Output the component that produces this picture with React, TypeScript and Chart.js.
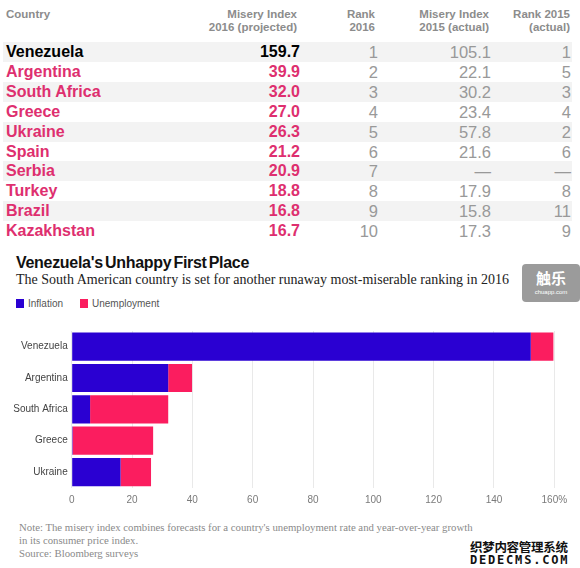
import React, { useEffect, useRef } from "react";
import { Chart, registerables } from "chart.js";

Chart.register(...registerables);

// ---- Table data ----
const tableCountries = ["Venezuela", "Argentina", "South Africa", "Greece", "Ukraine", "Spain", "Serbia", "Turkey", "Brazil", "Kazakhstan"];
const misery2016 = [159.7, 39.9, 32.0, 27.0, 26.3, 21.2, 20.9, 18.8, 16.8, 16.7];
const rank2016 = ["1", "2", "3", "4", "5", "6", "7", "8", "9", "10"];
const misery2015 = ["105.1", "22.1", "30.2", "23.4", "57.8", "21.6", "—", "17.9", "15.8", "17.3"];
const rank2015 = ["1", "5", "3", "4", "2", "6", "—", "8", "11", "9"];

// ---- Chart data ----
const chartCountries = ["Venezuela", "Argentina", "South Africa", "Greece", "Ukraine"];
const inflation = [152.2, 32.0, 6.1, 0.3, 16.2];
const unemployment = [7.5, 7.9, 25.9, 26.7, 10.1];
const xTicks = [0, 20, 40, 60, 80, 100, 120, 140, 160];

const BLUE = "#2a00d2";
const PINK = "#fb1d5f";
const TABLE_PINK = "#de2f6f";
const SANS = "'Liberation Sans', Arial, sans-serif";
const SERIF = "'Liberation Serif', 'Times New Roman', serif";

function MiseryChart() {
  const ref = useRef<HTMLCanvasElement>(null);
  useEffect(() => {
    const chart = new Chart(ref.current as HTMLCanvasElement, {
      type: "bar",
      data: {
        labels: chartCountries,
        datasets: [
          { label: "Inflation", data: inflation, backgroundColor: BLUE, barPercentage: 0.9, categoryPercentage: 1 },
          { label: "Unemployment", data: unemployment, backgroundColor: PINK, barPercentage: 0.9, categoryPercentage: 1 },
        ],
      },
      options: {
        indexAxis: "y",
        responsive: false,
        maintainAspectRatio: false,
        animation: false,
        layout: { padding: { top: 0, right: 25.7, bottom: 0.3, left: 0 } },
        plugins: { legend: { display: false }, tooltip: { enabled: false } },
        scales: {
          x: {
            stacked: true,
            min: 0,
            max: 160,
            afterBuildTicks: (s: any) => { s.ticks = xTicks.map((v) => ({ value: v })); },
            ticks: {
              padding: 7,
              color: "#7a7a7a",
              font: { family: "Liberation Sans", size: 10 },
              callback: (v: any) => (Number(v) === 160 ? "160%" : String(v)),
            },
            grid: { color: "#e9e9e9", drawTicks: false },
            border: { display: false },
          },
          y: {
            stacked: true,
            ticks: { padding: 4, color: "#444", font: { family: "Liberation Sans", size: 10 } },
            grid: { display: false, drawTicks: false },
            border: { display: false },
            afterFit: (s: any) => { s.width = 71.7; },
          },
        },
      },
    });
    return () => chart.destroy();
  }, []);
  return (
    <canvas
      ref={ref}
      width={580}
      height={193}
      style={{ position: "absolute", left: 0, top: 320.5, width: 580, height: 193 }}
    />
  );
}

const colRights = [283, 205, 91, 10];

export default function App() {
  return (
    <div style={{ position: "absolute", left: 0, top: 0, width: 580, height: 568, background: "#fff", overflow: "hidden", fontFamily: SANS }}>
      {/* Table header */}
      <div style={{ position: "absolute", left: 6, top: 8, lineHeight: "13px", fontSize: 11.5, fontWeight: 700, color: "#8c8c8c" }}>Country</div>
      {[
        ["Misery Index", "2016 (projected)"],
        ["Rank", "2016"],
        ["Misery Index", "2015 (actual)"],
        ["Rank 2015", "(actual)"],
      ].map((h, i) => (
        <div key={i} style={{ position: "absolute", right: colRights[i], top: 8, lineHeight: "13px", fontSize: 11.5, fontWeight: 700, color: "#8c8c8c", textAlign: "right", whiteSpace: "nowrap" }}>
          {h[0]}<br />{h[1]}
        </div>
      ))}

      {/* Table rows */}
      {tableCountries.map((c, i) => {
        const top = 42 + i * 19.9;
        const first = i === 0;
        return (
          <div key={c} style={{ position: "absolute", left: 3, top, width: 569, height: 20, background: i % 2 === 0 ? "#f3f3f3" : "transparent" }}>
            <div style={{ position: "absolute", left: 3, top: 0, lineHeight: "20px", fontSize: 16, fontWeight: 700, color: first ? "#000" : TABLE_PINK, whiteSpace: "nowrap" }}>{c}</div>
            <div style={{ position: "absolute", right: colRights[0] - 11, top: 0, lineHeight: "20px", fontSize: 16, fontWeight: 700, color: first ? "#000" : TABLE_PINK }}>{misery2016[i].toFixed(1)}</div>
            <div style={{ position: "absolute", right: colRights[1] - 11, top: 0, lineHeight: "20px", fontSize: 16.5, color: "#999" }}>{rank2016[i]}</div>
            <div style={{ position: "absolute", right: colRights[2] - 10, top: 0, lineHeight: "20px", fontSize: 16.5, color: "#999" }}>{misery2015[i]}</div>
            <div style={{ position: "absolute", right: colRights[3] - 9, top: 0, lineHeight: "20px", fontSize: 16.5, color: "#999" }}>{rank2015[i]}</div>
          </div>
        );
      })}

      {/* Chart title */}
      <div style={{ position: "absolute", left: 16, top: 254, fontSize: 16, lineHeight: "18px", fontWeight: 700, color: "#111", letterSpacing: -0.3, wordSpacing: -2, whiteSpace: "nowrap" }}>
        Venezuela's Unhappy First Place
      </div>
      <div style={{ position: "absolute", left: 16, top: 272, fontSize: 14, lineHeight: "16px", fontFamily: SERIF, color: "#222", whiteSpace: "nowrap" }}>
        The South American country is set for another runaway most-miserable ranking in 2016
      </div>

      {/* Badge */}
      <div style={{ position: "absolute", left: 522, top: 264, width: 58, height: 38, background: "#9b9b9b", borderRadius: 4, color: "#fff", textAlign: "center" }}>
        <div style={{ fontFamily: "'Noto Sans CJK SC'", fontSize: 15, fontWeight: 700, lineHeight: "20px", marginTop: 4 }}>触乐</div>
        <div style={{ fontSize: 6, lineHeight: "8px" }}>chuapp.com</div>
      </div>

      {/* Legend */}
      <div style={{ position: "absolute", left: 16, top: 299, width: 8, height: 9, background: BLUE }} />
      <div style={{ position: "absolute", left: 28, top: 297, fontSize: 10, lineHeight: "13px", color: "#555" }}>Inflation</div>
      <div style={{ position: "absolute", left: 80, top: 299, width: 8, height: 9, background: PINK }} />
      <div style={{ position: "absolute", left: 92, top: 297, fontSize: 10, lineHeight: "13px", color: "#555" }}>Unemployment</div>

      <MiseryChart />

      {/* Footnote */}
      <div style={{ position: "absolute", left: 19, top: 521, fontSize: 10.75, lineHeight: "13px", fontFamily: SERIF, color: "#8a8a8a", whiteSpace: "nowrap" }}>
        Note: The misery index combines forecasts for a country's unemployment rate and year-over-year growth<br />
        in its consumer price index.<br />
        Source: Bloomberg surveys
      </div>

      {/* Watermark */}
      <div style={{ position: "absolute", left: 470, top: 540, fontFamily: "'Noto Sans CJK SC'", fontSize: 12.5, lineHeight: "13px", fontWeight: 700, color: "#111", letterSpacing: -0.3, whiteSpace: "nowrap" }}>织梦内容管理系统</div>
      <div style={{ position: "absolute", left: 470, top: 554, fontFamily: "'DejaVu Sans Mono'", fontSize: 12, lineHeight: "13px", fontWeight: 700, color: "#111", letterSpacing: 1.8, whiteSpace: "nowrap" }}>DEDECMS.COM</div>
    </div>
  );
}
